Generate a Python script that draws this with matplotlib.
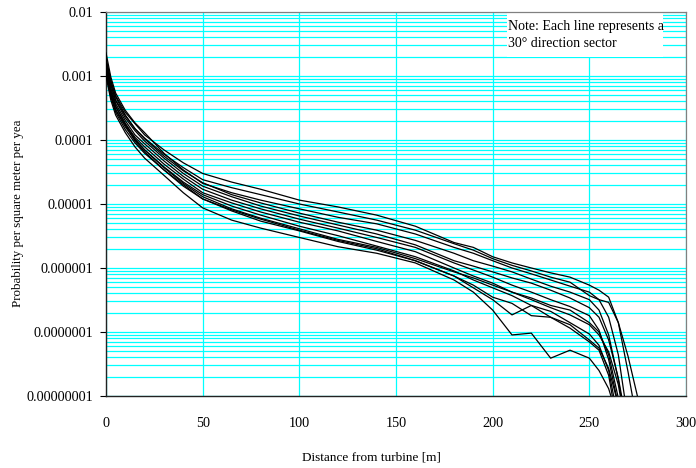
import numpy as np
import matplotlib
matplotlib.use("Agg")
import matplotlib.pyplot as plt
from matplotlib.patches import Rectangle

plt.rcParams['font.family'] = ['Liberation Serif', 'DejaVu Serif']

# ---- data -------------------------------------------------------------
distance = [0, 2.5, 5, 10, 15, 20, 30, 40, 50, 65, 80, 100, 120, 140, 160,
            180, 190, 200, 210, 220, 230, 240, 250, 255, 260, 265, 270, 275]

nan = np.nan
sector_1 = [1.8e-3, 8.1e-4, 4.9e-4, 2.7e-4, 1.8e-4, 1.2e-4, 7.0e-5, 4.4e-5, 3.0e-5, 2.2e-5,
            1.7e-5, 1.15e-5, 9.0e-6, 6.7e-6, 4.5e-6, 2.5e-6, 2.1e-6, 1.5e-6, 1.2e-6, 1.0e-6,
            8.4e-7, 7.2e-7, 5.4e-7, 4.5e-7, 3.5e-7, 1.4e-7, 4.2e-8, 9.6e-9]
sector_2 = [1.45e-3, 7.2e-4, 4.2e-4, 2.4e-4, 1.5e-4, 1.07e-4, 6.0e-5, 3.7e-5, 2.4e-5, 1.8e-5,
            1.4e-5, 1.0e-5, 7.5e-6, 5.6e-6, 3.9e-6, 2.4e-6, 1.9e-6, 1.4e-6, 1.1e-6, 9.0e-7,
            7.2e-7, 6.0e-7, 3.7e-7, 3.2e-7, 2.9e-7, 1.4e-7, 2.4e-8, 3.5e-9]
sector_3 = [2.3e-3, 9.6e-4, 5.4e-4, 2.9e-4, 1.85e-4, 1.3e-4, 6.2e-5, 3.4e-5, 2.1e-5, 1.5e-5,
            1.15e-5, 8.4e-6, 6.2e-6, 4.9e-6, 3.4e-6, 2.1e-6, 1.7e-6, 1.3e-6, 1.0e-6, 8.1e-7,
            6.5e-7, 5.2e-7, 4.2e-7, 3.2e-7, 1.7e-7, 4.4e-8, 4.2e-9, nan]
sector_4 = [1.9e-3, 8.7e-4, 4.7e-4, 2.45e-4, 1.5e-4, 1.04e-4, 5.6e-5, 3.3e-5, 2.15e-5, 1.4e-5,
            1.04e-5, 7.2e-6, 5.2e-6, 3.9e-6, 2.7e-6, 1.7e-6, 1.3e-6, 1.07e-6, 8.7e-7, 6.7e-7,
            5.2e-7, 4.2e-7, 3.2e-7, 2.2e-7, 9.0e-8, 1.8e-8, 2.1e-9, nan]
sector_5 = [1.7e-3, 7.5e-4, 4.1e-4, 2.2e-4, 1.4e-4, 9.6e-5, 5.2e-5, 3.0e-5, 1.9e-5, 1.3e-5,
            9.3e-6, 6.5e-6, 4.7e-6, 3.4e-6, 2.3e-6, 1.3e-6, 1.07e-6, 8.7e-7, 7.0e-7, 5.8e-7,
            4.5e-7, 3.4e-7, 2.4e-7, 1.7e-7, 7.5e-8, 1.9e-8, 2.9e-9, nan]
sector_6 = [1.4e-3, 6.5e-4, 3.7e-4, 2.0e-4, 1.2e-4, 8.7e-5, 4.7e-5, 2.7e-5, 1.7e-5, 1.15e-5,
            8.4e-6, 5.8e-6, 4.2e-6, 3.0e-6, 2.1e-6, 1.2e-6, 9.3e-7, 7.2e-7, 5.4e-7, 4.2e-7,
            3.2e-7, 2.5e-7, 1.8e-7, 1.07e-7, 3.7e-8, 7.2e-9, nan, nan]
sector_7 = [1.2e-3, 5.6e-4, 3.3e-4, 1.8e-4, 1.1e-4, 7.8e-5, 4.2e-5, 2.45e-5, 1.5e-5, 1.04e-5,
            7.5e-6, 5.2e-6, 3.8e-6, 2.6e-6, 1.8e-6, 1.0e-6, 7.5e-7, 5.8e-7, 4.2e-7, 3.4e-7,
            2.6e-7, 2.2e-7, 1.4e-7, 1.0e-7, 4.4e-8, 9.3e-9, nan, nan]
sector_8 = [1.15e-3, 5.0e-4, 2.9e-4, 1.6e-4, 1.0e-4, 7.0e-5, 3.8e-5, 2.2e-5, 1.4e-5, 9.3e-6,
            6.7e-6, 4.5e-6, 3.2e-6, 2.2e-6, 1.5e-6, 9.0e-7, 6.5e-7, 4.9e-7, 3.7e-7, 2.6e-7,
            2.1e-7, 1.4e-7, 9.3e-8, 6.2e-8, 2.5e-8, 4.2e-9, nan, nan]
sector_9 = [1.07e-3, 4.7e-4, 2.7e-4, 1.45e-4, 9.0e-5, 6.2e-5, 3.4e-5, 2.0e-5, 1.2e-5, 8.1e-6,
            5.8e-6, 3.9e-6, 2.7e-6, 2.0e-6, 1.3e-6, 7.5e-7, 5.4e-7, 3.5e-7, 2.8e-7, 1.8e-7,
            1.7e-7, 1.15e-7, 7.0e-8, 5.2e-8, 2.1e-8, 2.9e-9, nan, nan]
sector_10 = [1.3e-3, 6.0e-4, 3.4e-4, 1.8e-4, 1.04e-4, 7.0e-5, 3.7e-5, 2.1e-5, 1.3e-5, 8.4e-6,
             6.0e-6, 4.1e-6, 2.8e-6, 2.1e-6, 1.4e-6, 8.7e-7, 7.0e-7, 5.4e-7, 4.2e-7, 3.2e-7,
             2.4e-7, 1.85e-7, 1.3e-7, 9.0e-8, 4.9e-8, 1.5e-8, 2.1e-9, nan]
sector_11 = [1.2e-3, 5.2e-4, 3.0e-4, 1.7e-4, 9.6e-5, 6.5e-5, 3.4e-5, 1.9e-5, 1.2e-5, 7.8e-6,
             5.4e-6, 3.8e-6, 2.6e-6, 1.9e-6, 1.3e-6, 7.5e-7, 4.9e-7, 3.2e-7, 1.85e-7, 2.6e-7,
             1.7e-7, 1.3e-7, 7.5e-8, 5.6e-8, 2.7e-8, 7.2e-9, nan, nan]
sector_12 = [1.0e-3, 4.2e-4, 2.45e-4, 1.3e-4, 7.8e-5, 5.2e-5, 2.8e-5, 1.5e-5, 8.7e-6, 5.6e-6,
             4.2e-6, 3.0e-6, 2.15e-6, 1.7e-6, 1.2e-6, 6.5e-7, 4.2e-7, 2.2e-7, 9.0e-8, 9.6e-8,
             3.9e-8, 5.2e-8, 3.9e-8, 2.5e-8, 1.3e-8, 4.2e-9, nan, nan]

sectors = [sector_1, sector_2, sector_3, sector_4, sector_5, sector_6,
           sector_7, sector_8, sector_9, sector_10, sector_11, sector_12]

y_ticks = [1e-8, 1e-7, 1e-6, 1e-5, 1e-4, 1e-3, 1e-2]
y_tick_labels = ['0.00000001', '0.0000001', '0.000001', '0.00001',
                 '0.0001', '0.001', '0.01']
x_ticks = [0, 50, 100, 150, 200, 250, 300]
x_tick_labels = ['0', '50', '100', '150', '200', '250', '300']

note_text = "Note: Each line represents a\n30\u00b0 direction sector"
x_label = "Distance from turbine [m]"
y_label = "Probability per square meter per yea"

# ---- figure -----------------------------------------------------------
W, H = 696, 468
fig = plt.figure(figsize=(W / 100, H / 100), dpi=100)
ax = fig.add_axes([106 / W, (H - 396) / H, 580 / W, 384 / H])

cyan = '#00FFFF'
ax.set_yscale('log')
ax.set_xlim(0, 300)
ax.set_ylim(1e-8, 1e-2)

ax.set_xticks(x_ticks)
ax.set_xticklabels(x_tick_labels)
ax.set_yticks(y_ticks)
ax.set_yticklabels(y_tick_labels)
ax.yaxis.set_minor_formatter(plt.NullFormatter())

ax.grid(True, which='major', axis='x', color=cyan, lw=0.9)
ax.grid(True, which='both', axis='y', color=cyan, lw=0.9)
ax.set_axisbelow(True)

ax.tick_params(axis='x', which='both', length=0, pad=15, labelsize=10.3)
ax.tick_params(axis='y', which='major', length=4, width=0.8, pad=5,
               labelsize=10.3, direction='out')
ax.tick_params(axis='y', which='minor', length=0)

for side in ['left', 'bottom']:
    ax.spines[side].set_color('#222222')
    ax.spines[side].set_linewidth(1.0)
for side in ['top', 'right']:
    ax.spines[side].set_color('#808080')
    ax.spines[side].set_linewidth(0.9)

for s in sectors:
    ax.plot(distance, s, color='black', lw=0.9, zorder=3)

# note box
ax.add_patch(Rectangle(((507 - 106) / 580, (396 - 57) / 384),
                       (663 - 507) / 580, 57 / 384 - 0.001,
                       transform=ax.transAxes, facecolor='white',
                       edgecolor='none', zorder=2))
ax.text((508 - 106) / 580, (396 - 20) / 384, note_text,
        transform=ax.transAxes, ha='left', va='top', fontsize=10,
        linespacing=1.4, zorder=4)

fig.text(371 / W, 1 - 458 / H, x_label, ha='center', va='center', fontsize=9.5)
fig.text(18 / W, 1 - 213 / H, y_label, ha='center', va='center',
         rotation=90, fontsize=9.3)

fig.savefig('out.png', dpi=100)
